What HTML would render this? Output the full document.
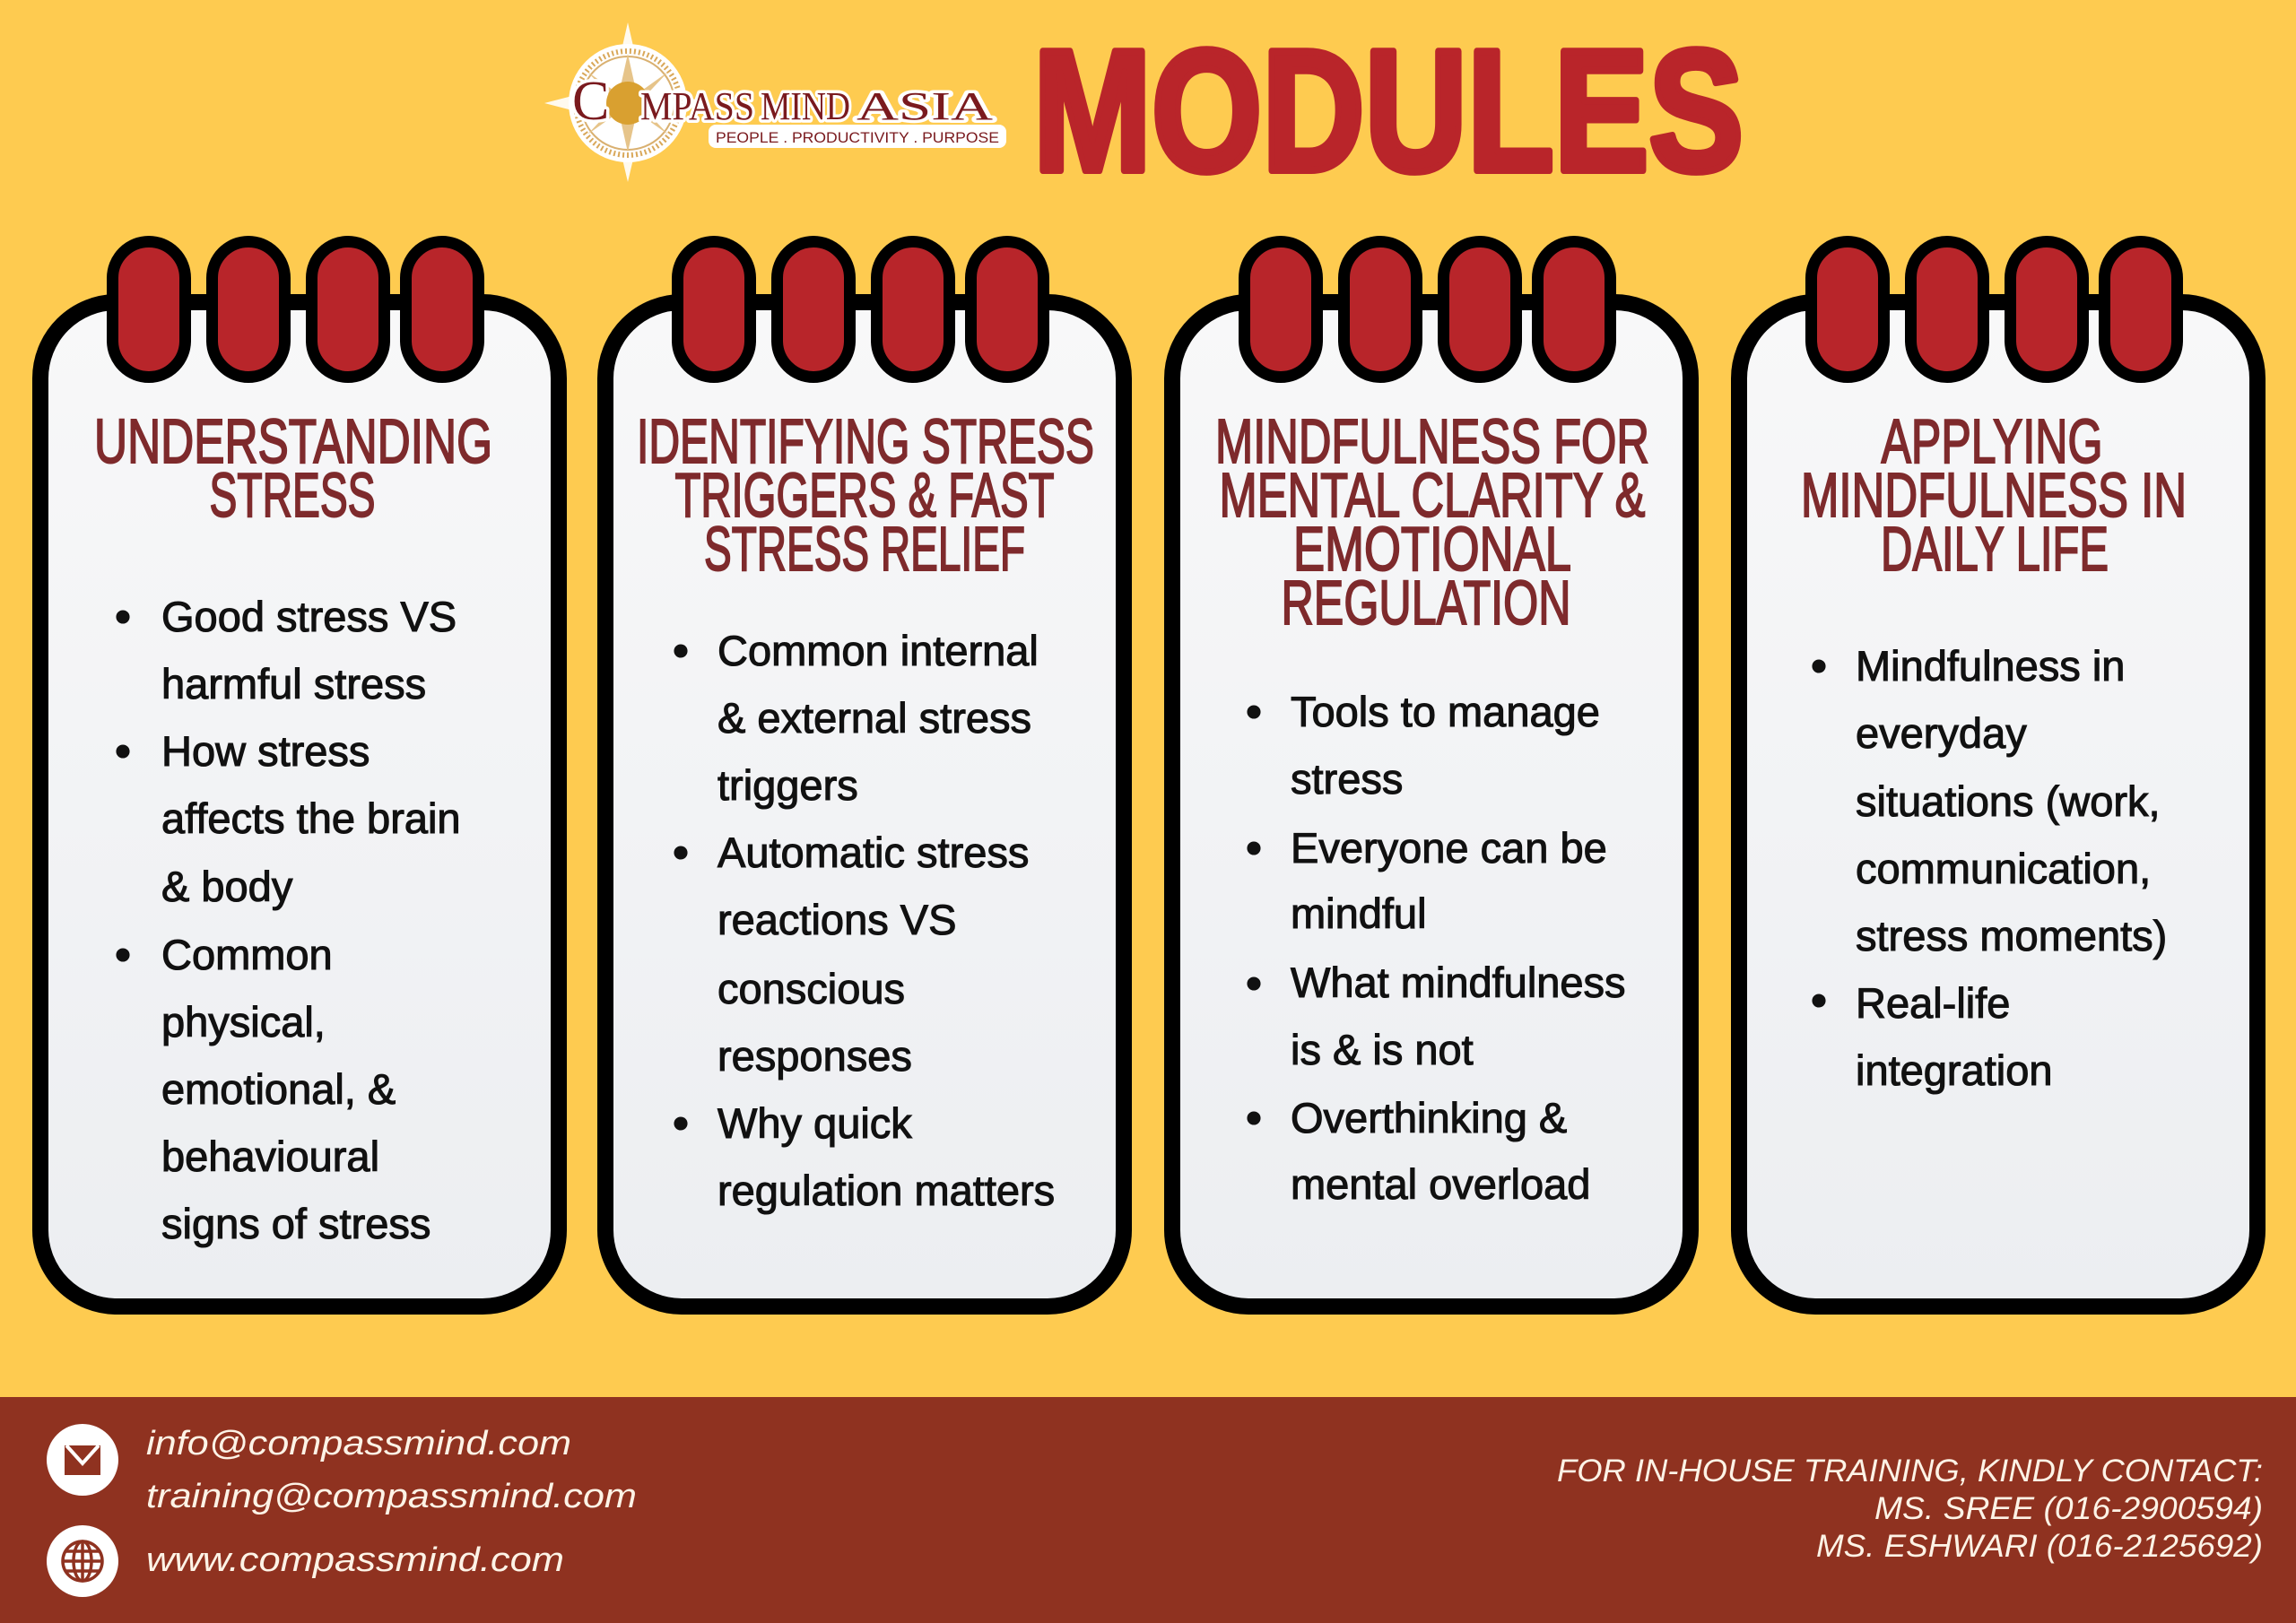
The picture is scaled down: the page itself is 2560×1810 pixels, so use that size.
<!DOCTYPE html>
<html><head><meta charset="utf-8"><style>
html,body{margin:0;padding:0;background:#fecb50;}
svg{display:block;}
.t{font-family:"Liberation Sans",sans-serif;fill:#7e2a2c;stroke:#7e2a2c;stroke-width:2px;font-size:70px;text-anchor:middle;}
.b{font-family:"Liberation Sans",sans-serif;fill:#111;font-size:47px;stroke:#111;stroke-width:1.1px;}
.f{font-family:"Liberation Sans",sans-serif;font-style:italic;fill:#fdf3e6;}
</style></head><body>
<svg width="2560" height="1810" viewBox="0 0 2560 1810" xmlns="http://www.w3.org/2000/svg">
<defs>
<linearGradient id="cg" x1="0" y1="0" x2="0" y2="1"><stop offset="0" stop-color="#f8f8f9"/><stop offset="1" stop-color="#eceef1"/></linearGradient>
<g id="tabs">
<rect x="95.5" y="269.5" width="81" height="151" rx="40.5" fill="#b8252a" stroke="#000" stroke-width="13"/>
<rect x="206.5" y="269.5" width="81" height="151" rx="40.5" fill="#b8252a" stroke="#000" stroke-width="13"/>
<rect x="317.5" y="269.5" width="81" height="151" rx="40.5" fill="#b8252a" stroke="#000" stroke-width="13"/>
<rect x="422.5" y="269.5" width="81" height="151" rx="40.5" fill="#b8252a" stroke="#000" stroke-width="13"/>
</g>
</defs>
<rect width="2560" height="1810" fill="#fecb50"/>

<!-- logo -->
<g>
<polygon points="700,25 716,95 790,115 716,135 700,203 684,135 607,115 684,95" fill="#fff" opacity="0.9"/>
<circle cx="700" cy="115" r="66" fill="#fff"/>
<circle cx="700" cy="115" r="58" fill="none" stroke="#d9a85a" stroke-width="6" stroke-dasharray="2 3"/>
<circle cx="700" cy="115" r="52" fill="none" stroke="#d9b070" stroke-width="2"/>
<polygon points="700,60 710,105 745,80 712,115 745,150 710,125 700,170 690,125 655,150 688,115 655,80 690,105" fill="#e6c48a"/>
<circle cx="700" cy="115" r="24" fill="#d9a030"/>
<rect x="790" y="139" width="332" height="26" rx="8" fill="#fff"/>
<g font-family="'Liberation Serif',serif" fill="#7a1a1e" stroke="#fff" stroke-width="7" paint-order="stroke" stroke-linejoin="round">
<text x="638" y="133" font-size="62">C</text>
<text x="714" y="133" font-size="44" textLength="127" lengthAdjust="spacingAndGlyphs">MPASS</text>
<text x="848" y="133" font-size="44" textLength="100" lengthAdjust="spacingAndGlyphs">MIND</text>
<text x="955" y="133" font-size="44" textLength="152" lengthAdjust="spacingAndGlyphs">ASIA</text>
</g>
<text x="798" y="159" font-family="'Liberation Sans',sans-serif" font-size="17" fill="#7a1a1e" textLength="316" lengthAdjust="spacingAndGlyphs">PEOPLE . PRODUCTIVITY . PURPOSE</text>
</g>
<text x="1152" y="190" font-family="'Liberation Sans',sans-serif" font-weight="bold" font-size="193" fill="#b9252a" stroke="#b9252a" stroke-width="8" stroke-linejoin="round" textLength="792" lengthAdjust="spacingAndGlyphs">MODULES</text>

<!-- cards -->
<g>
<rect x="45" y="337" width="578" height="1120" rx="85" fill="url(#cg)" stroke="#000" stroke-width="18"/>
<use href="#tabs" x="30"/>
<rect x="675" y="337" width="578" height="1120" rx="85" fill="url(#cg)" stroke="#000" stroke-width="18"/>
<use href="#tabs" x="660"/>
<rect x="1307" y="337" width="578" height="1120" rx="85" fill="url(#cg)" stroke="#000" stroke-width="18"/>
<use href="#tabs" x="1292"/>
<rect x="1939" y="337" width="578" height="1120" rx="85" fill="url(#cg)" stroke="#000" stroke-width="18"/>
<use href="#tabs" x="1924"/>
</g>

<!-- titles -->
<text class="t" x="327" y="516" textLength="444" lengthAdjust="spacingAndGlyphs">UNDERSTANDING</text>
<text class="t" x="326" y="576" textLength="185" lengthAdjust="spacingAndGlyphs">STRESS</text>

<text class="t" x="965" y="516" textLength="510" lengthAdjust="spacingAndGlyphs">IDENTIFYING STRESS</text>
<text class="t" x="964" y="576" textLength="423" lengthAdjust="spacingAndGlyphs">TRIGGERS &amp; FAST</text>
<text class="t" x="964" y="636" textLength="358" lengthAdjust="spacingAndGlyphs">STRESS RELIEF</text>

<text class="t" x="1597" y="516" textLength="484" lengthAdjust="spacingAndGlyphs">MINDFULNESS FOR</text>
<text class="t" x="1597" y="576" textLength="475" lengthAdjust="spacingAndGlyphs">MENTAL CLARITY &amp;</text>
<text class="t" x="1597" y="636" textLength="310" lengthAdjust="spacingAndGlyphs">EMOTIONAL</text>
<text class="t" x="1590" y="696" textLength="323" lengthAdjust="spacingAndGlyphs">REGULATION</text>

<text class="t" x="2221" y="516" textLength="247" lengthAdjust="spacingAndGlyphs">APPLYING</text>
<text class="t" x="2223" y="576" textLength="430" lengthAdjust="spacingAndGlyphs">MINDFULNESS IN</text>
<text class="t" x="2224" y="636" textLength="254" lengthAdjust="spacingAndGlyphs">DAILY LIFE</text>

<!-- bullets card 1 -->
<g class="b">
<circle cx="137" cy="688" r="7" fill="#111"/><circle cx="137" cy="838" r="7" fill="#111"/><circle cx="137" cy="1065" r="7" fill="#111"/>
<text x="180" y="704">Good stress VS</text>
<text x="180" y="779">harmful stress</text>
<text x="180" y="854">How stress</text>
<text x="180" y="929">affects the brain</text>
<text x="180" y="1005">&amp; body</text>
<text x="180" y="1081">Common</text>
<text x="180" y="1156">physical,</text>
<text x="180" y="1231">emotional, &amp;</text>
<text x="180" y="1306">behavioural</text>
<text x="180" y="1381">signs of stress</text>
</g>
<!-- card 2 -->
<g class="b">
<circle cx="759" cy="726" r="7" fill="#111"/><circle cx="759" cy="951" r="7" fill="#111"/><circle cx="759" cy="1253" r="7" fill="#111"/>
<text x="800" y="742">Common internal</text>
<text x="800" y="817">&amp; external stress</text>
<text x="800" y="892">triggers</text>
<text x="800" y="967">Automatic stress</text>
<text x="800" y="1042">reactions VS</text>
<text x="800" y="1119">conscious</text>
<text x="800" y="1194">responses</text>
<text x="800" y="1269">Why quick</text>
<text x="800" y="1344">regulation matters</text>
</g>
<!-- card 3 -->
<g class="b">
<circle cx="1398" cy="794" r="7" fill="#111"/><circle cx="1398" cy="946" r="7" fill="#111"/><circle cx="1398" cy="1097" r="7" fill="#111"/><circle cx="1398" cy="1247" r="7" fill="#111"/>
<text x="1439" y="810">Tools to manage</text>
<text x="1439" y="885">stress</text>
<text x="1439" y="962">Everyone can be</text>
<text x="1439" y="1035">mindful</text>
<text x="1439" y="1112">What mindfulness</text>
<text x="1439" y="1187">is &amp; is not</text>
<text x="1439" y="1263">Overthinking &amp;</text>
<text x="1439" y="1337">mental overload</text>
</g>
<!-- card 4 -->
<g class="b">
<circle cx="2028" cy="743" r="7" fill="#111"/><circle cx="2028" cy="1116" r="7" fill="#111"/>
<text x="2069" y="759">Mindfulness in</text>
<text x="2069" y="834">everyday</text>
<text x="2069" y="910">situations (work,</text>
<text x="2069" y="985">communication,</text>
<text x="2069" y="1060">stress moments)</text>
<text x="2069" y="1135">Real-life</text>
<text x="2069" y="1210">integration</text>
</g>

<!-- footer -->
<rect x="0" y="1558" width="2560" height="252" fill="#8f3220"/>
<circle cx="92" cy="1628" r="40" fill="#fff"/>
<rect x="72" y="1612" width="40" height="33" fill="#8f3220"/>
<polyline points="74,1612 92,1632 110,1612" fill="none" stroke="#fff" stroke-width="4"/>
<circle cx="92" cy="1741" r="40" fill="#fff"/>
<g fill="none" stroke="#8f3220" stroke-width="3.5">
<circle cx="92" cy="1741" r="22"/>
<ellipse cx="92" cy="1741" rx="10" ry="22"/>
<line x1="92" y1="1719" x2="92" y2="1763"/>
<line x1="70" y1="1741" x2="114" y2="1741"/>
<line x1="74" y1="1730" x2="110" y2="1730"/>
<line x1="74" y1="1752" x2="110" y2="1752"/>
</g>
<text class="f" x="163" y="1622" font-size="38" textLength="474" lengthAdjust="spacingAndGlyphs">info@compassmind.com</text>
<text class="f" x="163" y="1681" font-size="38" textLength="547" lengthAdjust="spacingAndGlyphs">training@compassmind.com</text>
<text class="f" x="163" y="1752" font-size="38" textLength="466" lengthAdjust="spacingAndGlyphs">www.compassmind.com</text>
<text class="f" x="1736" y="1652" font-size="35" textLength="787" lengthAdjust="spacingAndGlyphs">FOR IN-HOUSE TRAINING, KINDLY CONTACT:</text>
<text class="f" x="2090" y="1694" font-size="35" textLength="433" lengthAdjust="spacingAndGlyphs">MS. SREE (016-2900594)</text>
<text class="f" x="2025" y="1736" font-size="35" textLength="498" lengthAdjust="spacingAndGlyphs">MS. ESHWARI (016-2125692)</text>
</svg>
</body></html>
